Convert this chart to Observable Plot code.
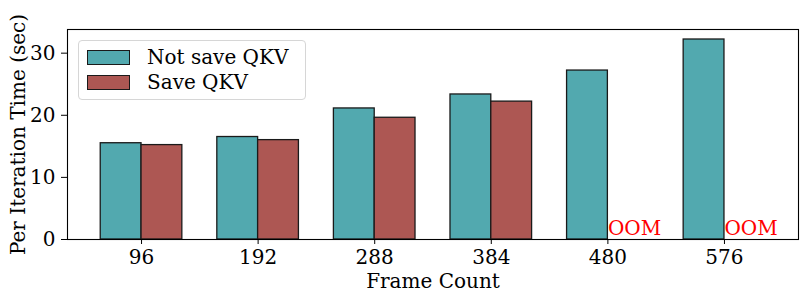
<!DOCTYPE html>
<html>
<head>
<meta charset="utf-8">
<script src="https://cdn.jsdelivr.net/npm/d3@7"></script>
<script src="https://cdn.jsdelivr.net/npm/@observablehq/plot@0.6"></script>
<style>
  body { margin: 0; background: #fff; }
  #wrap { position: relative; width: 806px; height: 301px; }
  #wrap svg { display: block; }
  .legend { position: absolute; left: 78px; top: 40px; width: 228px; height: 60px;
    box-sizing: border-box; border: 1px solid #d6d6d6; border-radius: 4px;
    background: rgba(255,255,255,0.8); font-family: "DejaVu Serif", serif; font-size: 20px; color: #000; }
  .item { position: absolute; left: 8px; height: 15px; line-height: 15px; white-space: nowrap; }
  .sw { position: absolute; left: 0; top: 0; width: 43px; height: 15px; box-sizing: border-box; border: 1.3px solid #1a1a1a; }
  .lbl { position: absolute; left: 60px; top: 0; }
</style>
</head>
<body>
<div id="wrap"></div>
<script>
// ---- data ----
const frameCounts = [96, 192, 288, 384, 480, 576];
const notSaveQKV = [15.5, 16.5, 21.1, 23.35, 27.2, 32.2];
const saveQKV    = [15.2, 16.0, 19.6, 22.2, null, null];
const seriesNames = ["Not save QKV", "Save QKV"];
const seriesColors = ["#52a9af", "#ad5753"];
const yTicks = [0, 10, 20, 30];
const oomLabel = "OOM";
const xLabel = "Frame Count";
const yLabel = "Per Iteration Time (sec)";

const rows = frameCounts.map((f, i) => ({i, frame: f, notSave: notSaveQKV[i], save: saveQKV[i]}));
const barW = 0.35;
const ymax = d3.max(notSaveQKV) * 1.05;
const edge = "#1a1a1a";

const chart = Plot.plot({
  width: 806,
  height: 301,
  marginLeft: 67,
  marginRight: 8,
  marginTop: 29,
  marginBottom: 62,
  style: { fontFamily: '"DejaVu Serif", serif', fontSize: "20px", color: "#000", background: "transparent", overflow: "visible" },
  x: { domain: [-0.635, frameCounts.length - 1 + 0.635], ticks: d3.range(frameCounts.length),
       tickFormat: i => frameCounts[i], tickSize: 5, tickPadding: 5, label: null },
  y: { domain: [0, ymax], ticks: yTicks, tickSize: 6, tickPadding: 6, label: null },
  marks: [
    Plot.rect(rows, { x1: d => d.i - barW, x2: d => d.i, y1: 0, y2: "notSave",
      fill: seriesColors[0], stroke: edge, strokeWidth: 1.3 }),
    Plot.rect(rows.filter(d => d.save != null), { x1: d => d.i, x2: d => d.i + barW, y1: 0, y2: "save",
      fill: seriesColors[1], stroke: edge, strokeWidth: 1.3 }),
    Plot.text(rows.filter(d => d.save == null), { x: "i", y: 0, text: () => oomLabel,
      fill: "red", textAnchor: "start", lineAnchor: "middle", dy: -10.7, fontSize: 20 }),
    Plot.frame({ stroke: "#000", strokeWidth: 1.1 }),
    Plot.text([yLabel], { frameAnchor: "left", text: d => d, rotate: -90, dx: -49,
      textAnchor: "middle", lineAnchor: "middle", fontSize: 20 }),
    Plot.text([xLabel], { frameAnchor: "bottom", text: d => d, dy: 42.5,
      textAnchor: "middle", lineAnchor: "middle", fontSize: 20 })
  ]
});

const wrap = document.getElementById("wrap");
wrap.appendChild(chart);

// legend (inside plot area, upper left)
const legend = document.createElement("div");
legend.className = "legend";
seriesNames.forEach((name, k) => {
  const item = document.createElement("div");
  item.className = "item";
  item.style.top = (9 + k * 24.5) + "px";
  const sw = document.createElement("div");
  sw.className = "sw";
  sw.style.background = seriesColors[k];
  const lbl = document.createElement("span");
  lbl.className = "lbl";
  lbl.textContent = name;
  item.appendChild(sw);
  item.appendChild(lbl);
  legend.appendChild(item);
});
wrap.appendChild(legend);
</script>
</body>
</html>
